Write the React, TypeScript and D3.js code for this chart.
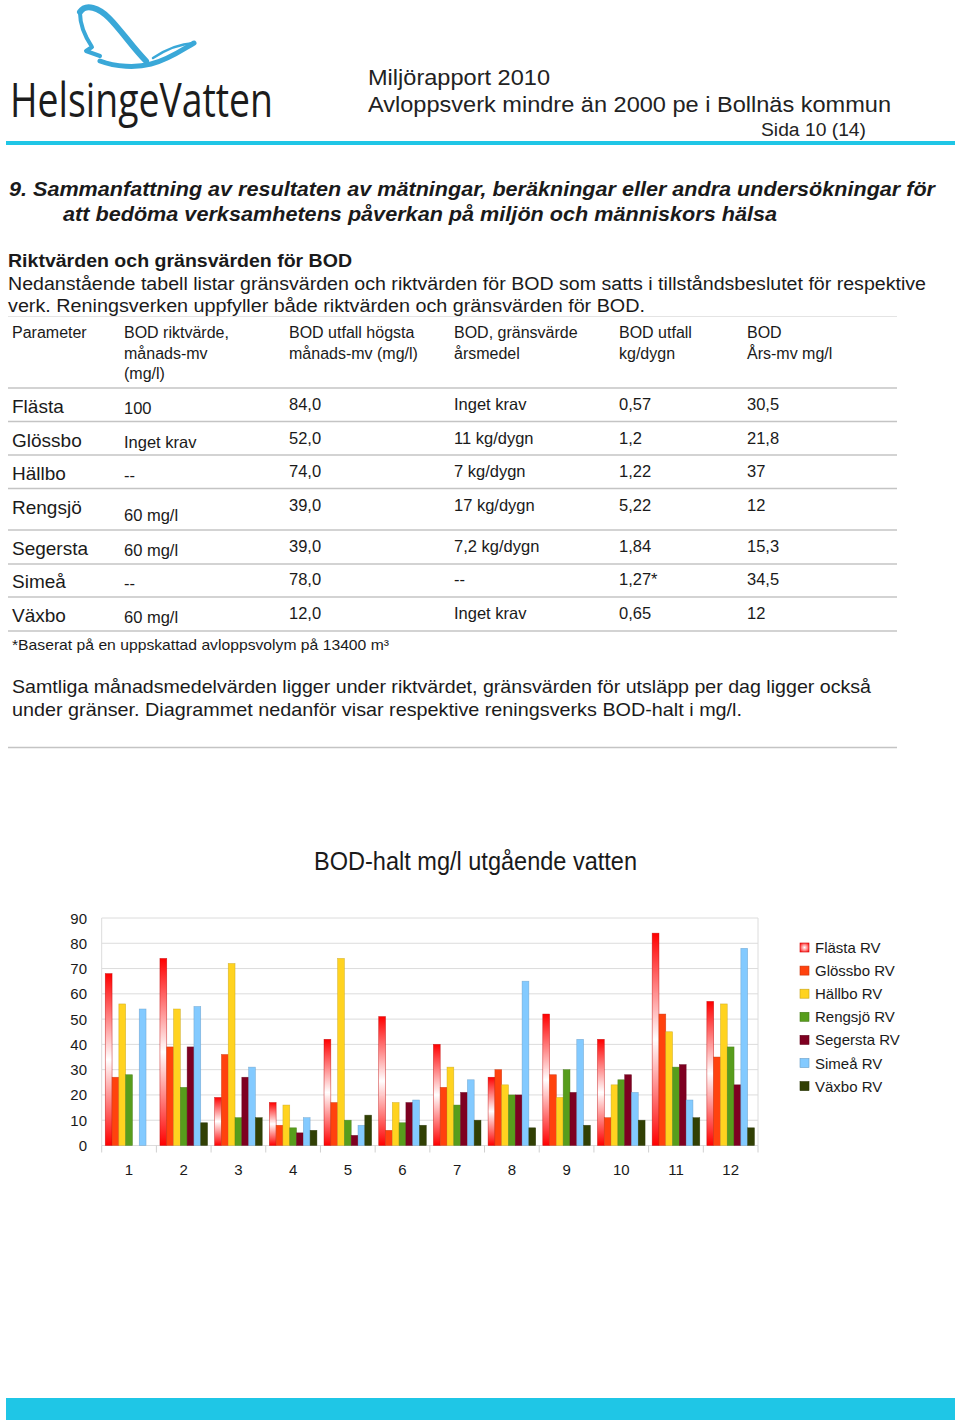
import React from 'react';
import * as d3 from 'd3';

// chart data (BOD mg/l per month)
const months = ['1', '2', '3', '4', '5', '6', '7', '8', '9', '10', '11', '12'];
const seriesNames = ['Flästa RV', 'Glössbo RV', 'Hällbo RV', 'Rengsjö RV', 'Segersta RV', 'Simeå RV', 'Växbo RV'];
const flasta = [68, 74, 19, 17, 42, 51, 40, 27, 52, 42, 84, 57];
const glossbo = [27, 39, 36, 8, 17, 6, 23, 30, 28, 11, 52, 35];
const hallbo = [56, 54, 72, 16, 74, 17, 31, 24, 19, 24, 45, 56];
const rengsjo = [28, 23, 11, 7, 10, 9, 16, 20, 30, 26, 31, 39];
const segersta = [null, 39, 27, 5, 4, 17, 21, 20, 21, 28, 32, 24];
const simea = [54, 55, 31, 11, 8, 18, 26, 65, 42, 21, 18, 78];
const vaxbo = [null, 9, 11, 6, 12, 8, 10, 7, 8, 10, 11, 7];
const seriesValues = [flasta, glossbo, hallbo, rengsjo, segersta, simea, vaxbo];
const seriesColors = ['url(#flastaGrad)', '#ff420e', '#ffd320', '#579d1c', '#7e0021', '#83caff', '#314004'];
const yTicks = [0, 10, 20, 30, 40, 50, 60, 70, 80, 90];

// table data
const tableHeader = [
  ['Parameter'],
  ['BOD riktvärde,', 'månads-mv', '(mg/l)'],
  ['BOD utfall högsta', 'månads-mv (mg/l)'],
  ['BOD, gränsvärde', 'årsmedel'],
  ['BOD utfall', 'kg/dygn'],
  ['BOD', 'Års-mv mg/l'],
];
const tableRows = [
  ['Flästa', '100', '84,0', 'Inget krav', '0,57', '30,5'],
  ['Glössbo', 'Inget krav', '52,0', '11 kg/dygn', '1,2', '21,8'],
  ['Hällbo', '--', '74,0', '7 kg/dygn', '1,22', '37'],
  ['Rengsjö', '60 mg/l', '39,0', '17 kg/dygn', '5,22', '12'],
  ['Segersta', '60 mg/l', '39,0', '7,2 kg/dygn', '1,84', '15,3'],
  ['Simeå', '--', '78,0', '--', '1,27*', '34,5'],
  ['Växbo', '60 mg/l', '12,0', 'Inget krav', '0,65', '12'],
];

const FONT = '"Liberation Sans", Arial, Helvetica, sans-serif';
const TXT = '#1a1a1a';

const T = ({ x, y, size = 16, weight = 'normal', italic = false, anchor = 'start', len, fill = TXT, family, children }: any) => (
  <text
    x={x}
    y={y}
    fontSize={size}
    fontWeight={weight}
    fontStyle={italic ? 'italic' : 'normal'}
    textAnchor={anchor}
    fill={fill}
    fontFamily={family}
    textLength={len}
    lengthAdjust={len ? 'spacingAndGlyphs' : undefined}
  >
    {children}
  </text>
);

const Chart = () => {
  const left = 101.7, right = 758, top = 918, bottom = 1145.5;
  const x0 = d3.scaleBand().domain(months).range([left, right]).padding(0);
  const bw = x0.bandwidth();
  const x1 = d3.scaleBand().domain(seriesNames).range([bw * 0.065, bw * 0.935]).padding(0);
  const y = d3.scaleLinear().domain([0, 90]).range([bottom, top]);

  return (
    <g>
      <T x={475.5} y={870} size={25} anchor="middle" len={323}>BOD-halt mg/l utgående vatten</T>
      {/* grid */}
      {yTicks.map(t => (
        <g key={t}>
          <line x1={left} x2={right} y1={y(t)} y2={y(t)} stroke="#dcdcdc" strokeWidth={1} />
          <T x={87} y={y(t) + 5.5} size={15} anchor="end">{t}</T>
        </g>
      ))}
      <line x1={left} x2={left} y1={top} y2={bottom} stroke="#dcdcdc" />
      <line x1={right} x2={right} y1={top} y2={bottom} stroke="#dcdcdc" />
      {months.map(m => (
        <line key={'tk' + m} x1={x0(m)!} x2={x0(m)!} y1={bottom} y2={bottom + 7} stroke="#d0d0d0" />
      ))}
      <line x1={right} x2={right} y1={bottom} y2={bottom + 7} stroke="#d0d0d0" />
      {months.map(m => (
        <T key={'xl' + m} x={x0(m)! + bw / 2} y={1175} size={15} anchor="middle">{m}</T>
      ))}
      {/* bars */}
      {seriesNames.map((s, si) => (
        <g key={s}>
          {months.map((m, mi) => {
            const v = seriesValues[si][mi];
            if (v == null) return null;
            const base = seriesColors[si];
            const stroke = si === 0 ? '#c00000' : d3.color(base)!.darker(0.7).formatHex();
            return (
              <rect
                key={m}
                x={x0(m)! + x1(s)!}
                y={y(v)}
                width={x1.bandwidth()}
                height={y(0) - y(v)}
                fill={base}
                stroke={stroke}
                strokeWidth={0.6}
                strokeOpacity={0.7}
              />
            );
          })}
        </g>
      ))}
      {/* legend */}
      {seriesNames.map((s, i) => (
        <g key={'lg' + s} transform={`translate(800, ${943 + i * 23.1})`}>
          <rect
            x={0}
            y={0}
            width={9}
            height={9}
            fill={i === 0 ? 'url(#flastaLegend)' : seriesColors[i]}
            stroke={i === 0 ? '#d00000' : d3.color(seriesColors[i])!.darker(0.7).formatHex()}
            strokeWidth={0.6}
          />
          <T x={15} y={10} size={15}>{s}</T>
        </g>
      ))}
    </g>
  );
};

const App = () => {
  const colX = [12, 124, 289, 454, 619, 747];
  const nameBase = [413, 447, 480, 514, 555, 588, 622];
  const rowLines = [388, 421.5, 455, 488.5, 530, 564, 597, 631];

  return (
    <svg
      width={960}
      height={1428}
      style={{ position: 'absolute', left: 0, top: 0, background: '#fff', fontFamily: FONT }}
    >
      <defs>
        <linearGradient id="flastaGrad" x1="0" y1="0" x2="0" y2="1">
          <stop offset="0" stopColor="#ff0000" />
          <stop offset="0.5" stopColor="#ffffff" />
          <stop offset="1" stopColor="#ff0000" />
        </linearGradient>
        <radialGradient id="flastaLegend" cx="0.5" cy="0.5" r="0.6">
          <stop offset="0" stopColor="#ffffff" />
          <stop offset="1" stopColor="#ff2020" />
        </radialGradient>
      </defs>
      <rect width={960} height={1428} fill="#fff" />

      {/* logo swoosh */}
      <g fill="none" stroke="#3aa8d8" strokeLinecap="round" strokeLinejoin="round">
        <path d="M80,12 C86,3 99,8 109,18 C121,30 133,48 146,61" strokeWidth={6} />
        <path d="M80,13 C80,26 86,38 92,47 L86,51 L100,56" strokeWidth={4} />
        <path d="M100,61 C116,67 136,68 151,64 C168,60 182,50 194,43" strokeWidth={5} />
        <path d="M194,43 C178,44 165,50 153,58" strokeWidth={2.5} />
      </g>
      <T x={10} y={117} size={48} len={263} fill="#1c1c1c" family='"Open Sans", "Liberation Sans", sans-serif'>HelsingeVatten</T>

      {/* header */}
      <T x={368} y={85} size={22} len={182} fill="#222">Miljörapport 2010</T>
      <T x={368} y={112} size={22} len={523} fill="#222">Avloppsverk mindre än 2000 pe i Bollnäs kommun</T>
      <T x={761} y={136} size={18} len={105} fill="#222">Sida 10 (14)</T>
      <rect x={6} y={141} width={949} height={4} fill="#1fc6e6" />

      {/* section */}
      <T x={9} y={196} size={20} weight="bold" italic len={926}>9. Sammanfattning av resultaten av mätningar, beräkningar eller andra undersökningar för</T>
      <T x={63} y={221} size={20} weight="bold" italic len={714}>att bedöma verksamhetens påverkan på miljön och människors hälsa</T>
      <T x={8} y={267} size={18} weight="bold" len={344}>Riktvärden och gränsvärden för BOD</T>
      <T x={8} y={290} size={18} len={918}>Nedanstående tabell listar gränsvärden och riktvärden för BOD som satts i tillståndsbeslutet för respektive</T>
      <T x={8} y={312} size={18} len={637}>verk.  Reningsverken uppfyller både riktvärden och gränsvärden för BOD.</T>
      <line x1={8} x2={897} y1={316.5} y2={316.5} stroke="#e4e4e4" strokeWidth={1.2} />

      {/* table */}
      {tableHeader.map((lines, ci) =>
        lines.map((l, li) => (
          <T key={ci + '-' + li} x={colX[ci]} y={338 + li * 20.5} size={16}>{l}</T>
        ))
      )}
      {rowLines.map((ly, i) => (
        <line key={'rl' + i} x1={8} x2={897} y1={ly} y2={ly} stroke="#c4c4c4" strokeWidth={1.5} />
      ))}
      {tableRows.map((row, ri) => (
        <g key={'row' + ri}>
          <T x={colX[0]} y={nameBase[ri]} size={19}>{row[0]}</T>
          <T x={colX[1]} y={ri === 3 ? nameBase[ri] + 7 : nameBase[ri] + 1} size={16.5}>{row[1]}</T>
          {row.slice(2).map((c, ci) => (
            <T key={ci} x={colX[ci + 2]} y={nameBase[ri] - 3} size={16.5}>{c}</T>
          ))}
        </g>
      ))}
      <T x={12} y={650} size={15} len={377}>*Baserat på en uppskattad avloppsvolym på 13400 m³</T>

      <T x={12} y={693} size={19} len={859}>Samtliga månadsmedelvärden ligger under riktvärdet, gränsvärden för utsläpp per dag ligger också</T>
      <T x={12} y={716} size={19} len={730}>under gränser.  Diagrammet nedanför visar respektive reningsverks BOD-halt i mg/l.</T>
      <line x1={8} x2={897} y1={747.5} y2={747.5} stroke="#c4c4c4" strokeWidth={1.5} />

      <Chart />

      <rect x={6} y={1398} width={949} height={22} fill="#1fc6e6" />
    </svg>
  );
};

export default App;
